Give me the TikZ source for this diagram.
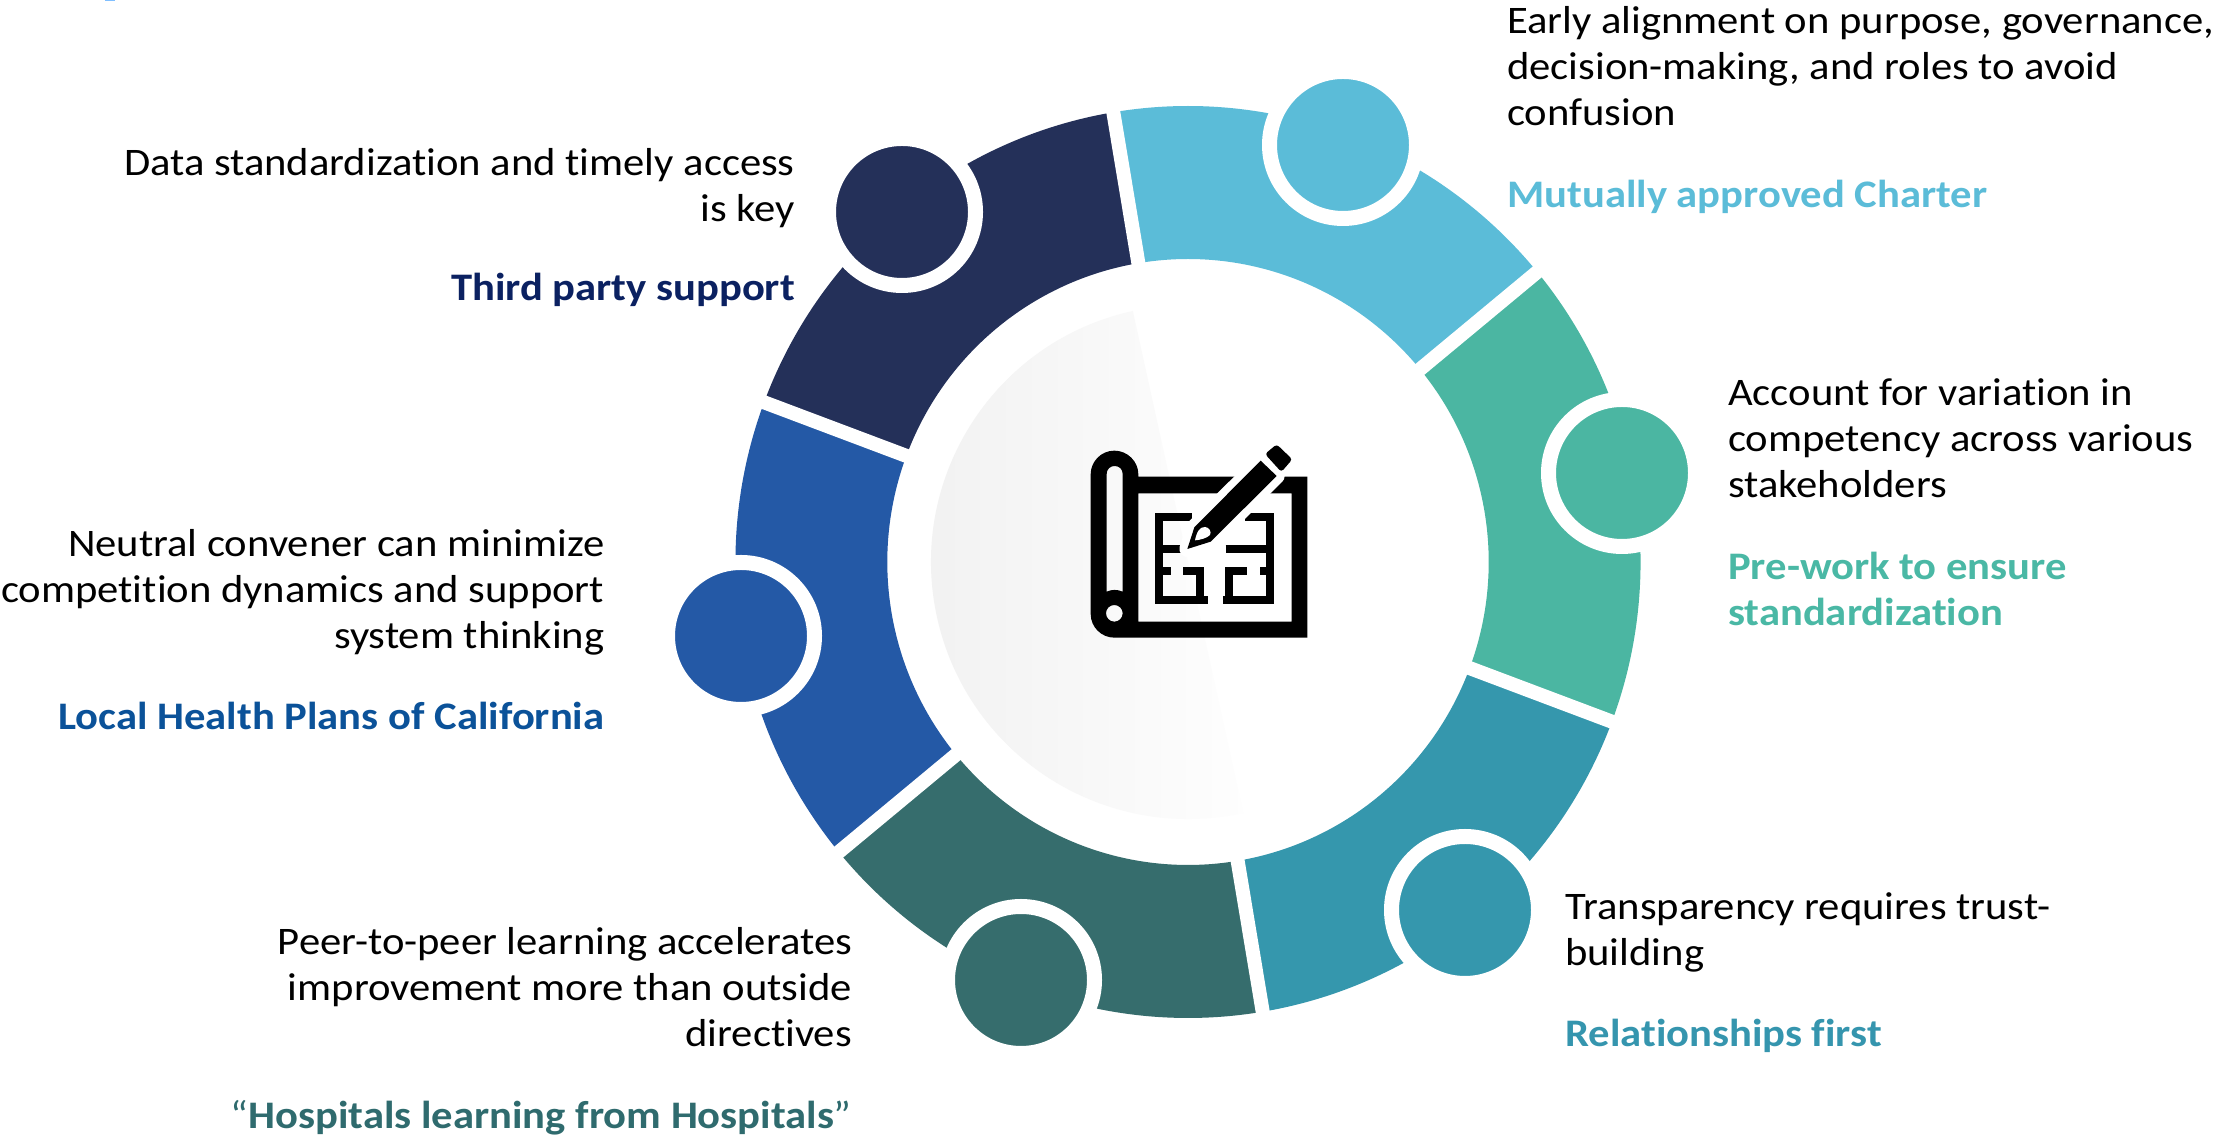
\documentclass[tikz,border=0pt]{standalone}
\usepackage{fontspec}
\setmainfont{Carlito}[FakeStretch=1.093,Ligatures=CommonOff]
\definecolor{cA}{HTML}{5BBCD8}
\definecolor{cB}{HTML}{4BB6A2}
\definecolor{cC}{HTML}{3597AD}
\definecolor{cD}{HTML}{366D6D}
\definecolor{cE}{HTML}{2459A6}
\definecolor{cF}{HTML}{243059}
\definecolor{hA}{HTML}{5BBCD8}
\definecolor{hB}{HTML}{4AB8A5}
\definecolor{hC}{HTML}{3595AE}
\definecolor{hD}{HTML}{2F6B6E}
\definecolor{hE}{HTML}{0B5299}
\definecolor{hF}{HTML}{0B2161}
\tikzset{
  bodytext/.style={inner sep=0pt,font=\fontsize{39}{46}\selectfont,text=black},
  headtext/.style={inner sep=0pt,font=\fontsize{39}{46}\selectfont\bfseries},
  knob/.style={circle,inner sep=0pt,outer sep=0pt,minimum size=147pt,draw=white,line width=15pt},
  gapline/.style={white,line width=14pt}
}
\newcommand{\ringseg}[3]{\fill[#1] (#2:303) arc[start angle=#2,end angle=#3,radius=303] -- (#3:456) arc[start angle=#3,end angle=#2,radius=456] -- cycle;}
\begin{document}
\begin{tikzpicture}[x=1pt,y=1pt]
\useasboundingbox (0,0) rectangle (2214,1139);
\fill[white] (0,0) rectangle (2214,1139);
\fill[blue!50!cyan!50] (105,1137.5) rectangle (115,1139);
% central half disc
\begin{scope}[shift={(1188,577)},rotate=12.4]
  \clip (0,257) arc[start angle=90,end angle=270,radius=257] -- cycle;
  \shade[left color=black!6,right color=black!0.5] (-257,-257) rectangle (0,257);
\end{scope}
% ring
\begin{scope}[shift={(1188,577)},xscale=0.9925]
  \ringseg{cA}{99.5}{39.5}
  \ringseg{cB}{39.5}{-20.5}
  \ringseg{cC}{-20.5}{-80.5}
  \ringseg{cD}{-80.5}{-140.5}
  \ringseg{cE}{-140.5}{-200.5}
  \ringseg{cF}{159.5}{99.5}
  \foreach \a in {99.5,39.5,-20.5,-80.5,-140.5,159.5}
    \draw[gapline] (\a:295) -- (\a:463);
\end{scope}
% knobs
\node[knob,fill=cA] (kA) at (1343,994) {};
\node[knob,fill=cB] (kB) at (1622,666) {};
\node[knob,fill=cC] (kC) at (1465,229) {};
\node[knob,fill=cD] (kD) at (1021,159) {};
\node[knob,fill=cE] (kE) at (741,503) {};
\node[knob,fill=cF] (kF) at (902,927) {};
% icon
\begin{scope}[shift={(1060pt,709pt)},x=0.33333pt,y=-0.33333pt]
  \fill[black,even odd rule]
    (92,133) .. controls (92,94) and (124,62) .. (163,62) .. controls (202,62) and (235,94) .. (235,133)
    -- (235,140) -- (742,140) -- (742,623) -- (163,623) .. controls (124,623) and (92,591) .. (92,552) -- cycle
    (235,190) -- (695,190) -- (695,575) -- (235,575) -- cycle
    (140,132) .. controls (140,118) and (150,108) .. (164,108) .. controls (178,108) and (188,118) .. (188,132)
    -- (188,485) .. controls (172,478) and (155,478) .. (140,485) -- cycle
    (163,550) circle[radius=8.33pt];
  \draw[black,line width=7.8pt,line cap=butt,line join=miter]
    (395,260) -- (298,260) -- (298,511) -- (443,511)
    (298,424) -- (332,424)
    (298,356) -- (362,356)
    (370,424) -- (420,424) -- (420,511)
    (555,260) -- (631,260) -- (631,511) -- (488,511)
    (508,511) -- (508,424) -- (560,424)
    (600,424) -- (631,424)
    (497,356) -- (631,356);
  \path[draw=white,line width=16pt,line join=round,fill=white]
    (382,357) -- (403,292) -- (605,92) -- (650,138) -- (452,335) -- cycle;
  \fill[black] (382,357) -- (403,292) -- (602,92) -- (650,138) -- (452,335) -- cycle;
  \fill[black,rounded corners=3pt] (615,72) -- (650,43) -- (697,88) -- (664,126) -- cycle;
  \fill[white] (405,331) .. controls (410,305) and (420,290) .. (435,291) .. controls (448,292) and (455,305) .. (450,315) .. controls (440,325) and (420,330) .. (405,331) -- cycle;
\end{scope}
% texts
\node[bodytext,align=left,anchor=base west] (tA) at (1507,1013) {Early alignment on purpose, governance,\\decision-making, and roles to avoid\\confusion};
\node[headtext,text=hA,anchor=base west] (hA) at (1507,931) {Mutually approved Charter};
\node[bodytext,align=right,anchor=base east] (tF) at (795,917) {Data standardization and timely access\\is key};
\node[headtext,text=hF,anchor=base east] (hF) at (795,838) {Third party support};
\node[bodytext,align=right,anchor=base east] (tE) at (604.5,490) {Neutral convener can minimize\\competition dynamics and support\\system thinking};
\node[headtext,text=hE,anchor=base east] (hE) at (604.5,409) {Local Health Plans of California};
\node[bodytext,align=left,anchor=base west] (tB) at (1728,641) {Account for variation in\\competency across various\\stakeholders};
\node[headtext,text=hB,align=left,anchor=base west] (hB) at (1728,513) {Pre-work to ensure\\standardization};
\node[bodytext,align=left,anchor=base west] (tC) at (1565,173) {Transparency requires trust-\\building};
\node[headtext,text=hC,anchor=base west] (hC) at (1565,92) {Relationships first};
\node[bodytext,align=right,anchor=base east] (tD) at (852,92) {Peer-to-peer learning accelerates\\improvement more than outside\\directives};
\node[headtext,text=hD,anchor=base east] (hD) at (852,10) {{\mdseries “}Hospitals learning from Hospitals{\mdseries ”}};
\end{tikzpicture}
\end{document}
